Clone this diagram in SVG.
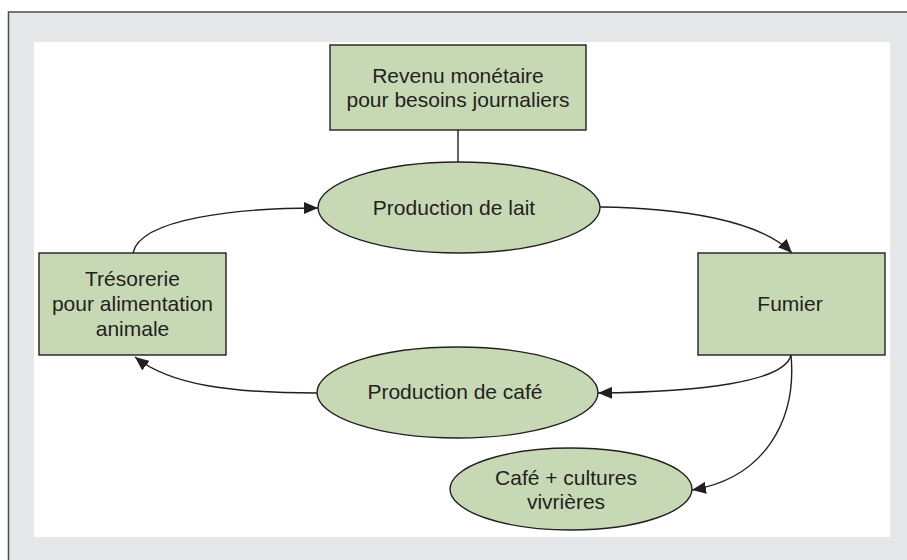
<svg xmlns="http://www.w3.org/2000/svg" width="907" height="560" viewBox="0 0 907 560">
<style>
.box{fill:#c7d9b4;stroke:#231f20;stroke-width:1.4}
.t{font-family:"Liberation Sans",Arial,sans-serif;font-size:21px;fill:#231f20;text-anchor:middle}
.c{fill:none;stroke:#231f20;stroke-width:1.4}
</style>
<defs>
<marker id="ah" markerUnits="userSpaceOnUse" markerWidth="16" markerHeight="12" refX="14" refY="6" orient="auto">
<path d="M0,0 L14,6 L0,12 z" fill="#231f20"/>
</marker>
</defs>
<rect x="8.5" y="12" width="910" height="560" fill="#e6e7e8" stroke="#4d4d4d" stroke-width="1.5"/>
<rect x="34" y="42" width="856" height="495" fill="#ffffff"/>
<g id="connectors">
<line class="c" x1="458" y1="130" x2="458" y2="162"/>
<path class="c" marker-end="url(#ah)" d="M133,253 C140,218 240,208 318,208"/>
<path class="c" marker-end="url(#ah)" d="M600,207 C680,208 760,220 792,253"/>
<path class="c" marker-end="url(#ah)" d="M791,355 C785,382 700,392 598,393"/>
<path class="c" marker-end="url(#ah)" d="M791,355 C797,420 765,478 692,490"/>
<path class="c" marker-end="url(#ah)" d="M317,393 C230,393 170,385 135,357"/>
</g>
<g id="revenu">
<rect class="box" x="330" y="45" width="256" height="85"/>
<text class="t" x="458" y="83">Revenu monétaire</text>
<text class="t" x="458" y="107">pour besoins journaliers</text>
</g>
<g id="lait">
<ellipse class="box" cx="459" cy="207.5" rx="141" ry="45.5"/>
<text class="t" x="454" y="215">Production de lait</text>
</g>
<g id="tresorerie">
<rect class="box" x="39" y="253" width="187" height="102"/>
<text class="t" x="132.5" y="286">Trésorerie</text>
<text class="t" x="132.5" y="311">pour alimentation</text>
<text class="t" x="132.5" y="336">animale</text>
</g>
<g id="fumier">
<rect class="box" x="698" y="253" width="187" height="102"/>
<text class="t" x="790" y="311">Fumier</text>
</g>
<g id="cafe">
<ellipse class="box" cx="457.5" cy="392.5" rx="140.5" ry="45.5"/>
<text class="t" x="455" y="399">Production de café</text>
</g>
<g id="cultures">
<ellipse class="box" cx="571" cy="489" rx="121" ry="41"/>
<text class="t" x="566" y="485">Café + cultures</text>
<text class="t" x="566" y="509">vivrières</text>
</g>
</svg>
